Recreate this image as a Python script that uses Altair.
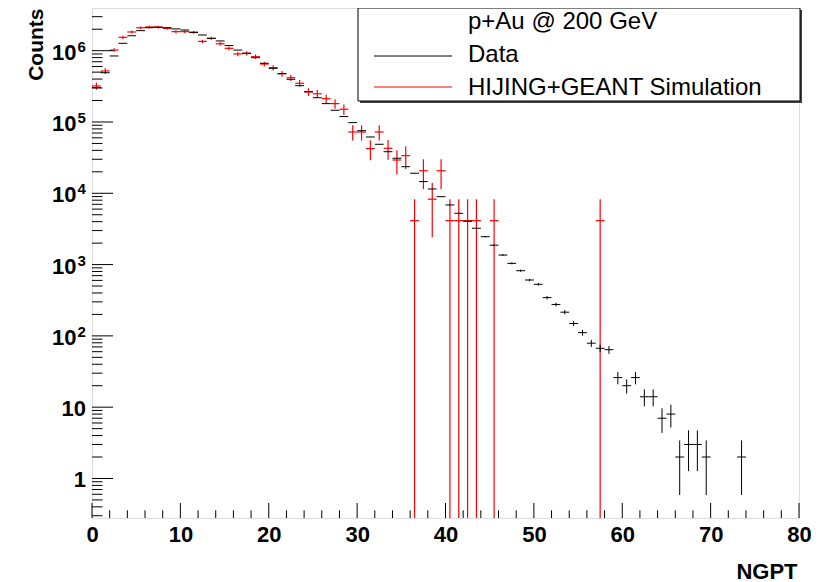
import math
import altair as alt
import pandas as pd

# ---------------- data ----------------
# NGPT bins are [i, i+1), i = 0..79
data_counts = [3.03e5, 4.91e5, 8.43e5, 1.27e6, 1.62e6, 1.91e6, 2.10e6, 2.13e6, 2.10e6, 2.02e6,
               1.95e6, 1.81e6, 1.66e6, 1.49e6, 1.37e6, 1.18e6, 1.02e6, 9.2e5, 7.98e5, 6.66e5,
               5.66e5, 4.76e5, 3.97e5, 3.23e5, 2.66e5, 2.19e5, 1.81e5, 1.46e5, 1.19e5, 9.8e4,
               7.55e4, 6.16e4, 4.87e4, 3.83e4, 3.10e4, 2.36e4, 1.91e4, 1.46e4, 1.15e4, 8960,
               6860, 5240, 4050, 3230, 2460, 1870, 1360, 1040, 821, 608,
               529, 344, 276, 215, 149, 111, 79, 67, 64, 26,
               20, 26, 14, 14, 7, 8, 2, 3, 3, 2,
               0, 0, 0, 2, 0, 0, 0, 0, 0, 0]

sim_counts = [3.2e5, 5.19e5, 1.02e6, 1.54e6, 1.83e6, 2.10e6, 2.15e6, 2.15e6, 2.06e6, 1.85e6,
              1.85e6, 1.81e6, 1.35e6, 1.49e6, 1.25e6, 1.08e6, 9.0e5, 9.2e5, 8.24e5, 6.5e5,
              5.78e5, 4.76e5, 4.18e5, 3.49e5, 2.64e5, 2.49e5, 2.12e5, 1.81e5, 1.51e5, 7.24e4,
              7.24e4, 4.23e4, 7.24e4, 4.28e4, 2.93e4, 3.37e4, 4130, 2.07e4, 8260, 2.07e4,
              4130, 4130, 4130, 4130, 0, 4130, 0, 0, 0, 0,
              0, 0, 0, 0, 0, 0, 0, 4130, 0, 0,
              0, 0, 0, 0, 0, 0, 0, 0, 0, 0,
              0, 0, 0, 0, 0, 0, 0, 0, 0, 0]
SIM_UNIT = 4130.0   # weight of one simulated entry
DATA_UNIT = 1.0

x_major = [0, 10, 20, 30, 40, 50, 60, 70, 80]
y_plain_ticks = [1, 10]
y_plain_labels = ["1", "10"]
y_exp_ticks = [1e2, 1e3, 1e4, 1e5, 1e6]
y_exp_base = ["10", "10", "10", "10", "10"]
y_exp_power = ["2", "3", "4", "5", "6"]

legend_header = "p+Au @ 200 GeV"
legend_data = "Data"
legend_sim = "HIJING+GEANT Simulation"

Y_MIN, Y_MAX = 0.279, 3.97e6
X_MIN, X_MAX = 0, 80


def hist_rows(values, unit):
    out = []
    for i, v in enumerate(values):
        if v <= 0:
            continue
        err = math.sqrt(v * unit)
        out.append(dict(lo=i, hi=i + 1, mid=i + 0.5, v=v,
                        elo=max(v - err, Y_MIN), ehi=v + err))
    return pd.DataFrame(out)


data_df = hist_rows(data_counts, DATA_UNIT)
sim_df = hist_rows(sim_counts, SIM_UNIT)

y_major = y_plain_ticks + y_exp_ticks
x_minor = [v for v in range(X_MIN, X_MAX + 1, 2) if v not in x_major]
y_minor = [m * 10.0 ** e for e in range(-1, 7) for m in range(2, 10)
           if Y_MIN <= m * 10.0 ** e <= Y_MAX]

FONT = "Liberation Sans"
W, H = 707, 510

xscale = alt.Scale(domain=[X_MIN, X_MAX], nice=False, zero=False)
yscale = alt.Scale(type="log", domain=[Y_MIN, Y_MAX], nice=False)

xaxis = alt.Axis(values=x_major, format="d", ticks=False, domain=False, grid=False,
                 labelFont=FONT, labelFontSize=22, labelFontWeight="bold", labelColor="black",
                 labelPadding=6, labelFlush=False, labelOverlap=False,
                 title="NGPT", titleFont=FONT, titleFontSize=22, titleFontWeight="bold",
                 titleColor="black", titleAlign="right", titleBaseline="middle",
                 titleX=705, titleY=53)
yaxis = alt.Axis(values=y_major, labels=False, ticks=False, domain=False, grid=False,
                 title="Counts", titleFont=FONT, titleFontSize=21, titleFontWeight="bold",
                 titleColor="black", titleAngle=-90, titleAlign="right", titleBaseline="middle",
                 titleX=-56, titleY=0)


def X(field):
    return alt.X(field, scale=xscale, axis=xaxis)


def Y(field):
    return alt.Y(field, scale=yscale, axis=yaxis)


RED = "#ff0000"

sim_h = alt.Chart(sim_df).mark_rule(color=RED, strokeWidth=1.2, clip=True).encode(
    x=X("lo:Q"), x2="hi:Q", y=Y("v:Q"))
sim_v = alt.Chart(sim_df).mark_rule(color=RED, strokeWidth=1.2, clip=True).encode(
    x=X("mid:Q"), y=Y("elo:Q"), y2="ehi:Q")
data_h = alt.Chart(data_df).mark_rule(color="black", strokeWidth=1, clip=True).encode(
    x=X("lo:Q"), x2="hi:Q", y=Y("v:Q"))
data_v = alt.Chart(data_df).mark_rule(color="black", strokeWidth=1, clip=True).encode(
    x=X("mid:Q"), y=Y("elo:Q"), y2="ehi:Q")

# inward ROOT-style ticks
yt_major = alt.Chart(pd.DataFrame({"t": y_major})).mark_rule(color="black").encode(
    y=Y("t:Q"), x=alt.value(0), x2=alt.value(21))
yt_minor = alt.Chart(pd.DataFrame({"t": y_minor})).mark_rule(color="black").encode(
    y=Y("t:Q"), x=alt.value(0), x2=alt.value(10.5))
xt_major = alt.Chart(pd.DataFrame({"t": x_major})).mark_rule(color="black").encode(
    x=X("t:Q"), y=alt.value(H), y2=alt.value(H - 15))
xt_minor = alt.Chart(pd.DataFrame({"t": x_minor})).mark_rule(color="black").encode(
    x=X("t:Q"), y=alt.value(H), y2=alt.value(H - 7.7))

# y tick labels with real superscripts
plain_df = pd.DataFrame({"t": y_plain_ticks, "lab": y_plain_labels})
exp_df = pd.DataFrame({"t": y_exp_ticks, "base": y_exp_base, "pw": y_exp_power})
ylab_plain = alt.Chart(plain_df).mark_text(
    align="right", baseline="alphabetic", dy=9, font=FONT, fontSize=22, fontWeight="bold",
    color="black").encode(y=Y("t:Q"), x=alt.value(-6), text="lab:N")
ylab_base = alt.Chart(exp_df).mark_text(
    align="right", baseline="alphabetic", dy=9, font=FONT, fontSize=22, fontWeight="bold",
    color="black").encode(y=Y("t:Q"), x=alt.value(-15.5), text="base:N")
ylab_pow = alt.Chart(exp_df).mark_text(
    align="left", baseline="alphabetic", dy=1, font=FONT, fontSize=15, fontWeight="bold",
    color="black").encode(y=Y("t:Q"), x=alt.value(-14.5), text="pw:N")

one = alt.Data(values=[{"k": 0}])
leg_shadow = alt.Chart(one).mark_rect(color="#444444").encode(
    x=alt.value(268), x2=alt.value(710), y=alt.value(2), y2=alt.value(95))
leg_box = alt.Chart(one).mark_rect(fill="white", stroke="black", strokeWidth=1).encode(
    x=alt.value(266), x2=alt.value(708), y=alt.value(0), y2=alt.value(93))
leg_line_data = alt.Chart(one).mark_rule(color="black", strokeWidth=1).encode(
    x=alt.value(282), x2=alt.value(360), y=alt.value(48))
leg_line_sim = alt.Chart(one).mark_rule(color=RED, strokeWidth=1.2).encode(
    x=alt.value(282), x2=alt.value(360), y=alt.value(79))


def leg_text(txt, y):
    return alt.Chart(one).mark_text(text=txt, align="left", baseline="alphabetic", font=FONT,
                                    fontSize=24, color="black").encode(
        x=alt.value(376), y=alt.value(y))


chart = alt.layer(
    sim_h, sim_v, data_h, data_v,
    yt_major, yt_minor, xt_major, xt_minor,
    ylab_plain, ylab_base, ylab_pow,
    leg_shadow, leg_box, leg_line_data, leg_line_sim,
    leg_text(legend_header, 20.5), leg_text(legend_data, 54), leg_text(legend_sim, 87),
).properties(
    width=W, height=H,
    autosize=alt.AutoSizeParams(type="none"),
    padding={"left": 84, "top": 0, "right": 12, "bottom": 66},
).configure_view(stroke="black", strokeWidth=1).configure(background="white")

chart.save("out.html", embed_options={"renderer": "svg", "actions": False})
